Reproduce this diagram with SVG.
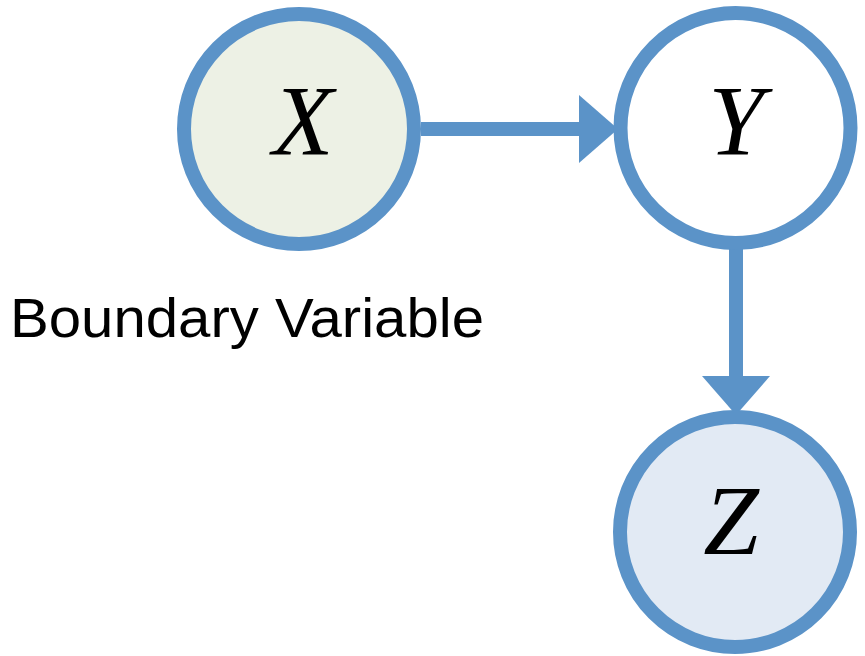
<svg xmlns="http://www.w3.org/2000/svg" width="865" height="656" viewBox="0 0 865 656">
<style>
.node{stroke:#5B93C8;stroke-width:14}
.var{font-family:"Liberation Serif","Times New Roman",serif;font-style:italic;font-size:100px;fill:#000;text-anchor:middle}
.lbl{font-family:"Liberation Sans",Arial,sans-serif;font-size:55px;fill:#000}
.edge{stroke:#5B93C8;stroke-width:14;fill:none}
.head{fill:#5B93C8}
</style>
<rect width="865" height="656" fill="#fff"/>
<g id="edges">
<line class="edge" x1="421" y1="129" x2="582" y2="129"/>
<polygon class="head" points="579,95 618,129 579,163"/>
<line class="edge" x1="736" y1="248" x2="736" y2="380"/>
<polygon class="head" points="702,376 770,376 736,415"/>
</g>
<g id="X">
<circle class="node" cx="299" cy="129" r="115" fill="#EDF1E5"/>
<text class="var" x="303" y="154">X</text>
</g>
<g id="Y">
<circle class="node" cx="735.5" cy="128" r="115" fill="#FFFFFF"/>
<text class="var" x="736" y="154">Y</text>
</g>
<g id="Z">
<circle class="node" cx="735" cy="532" r="115" fill="#E2EAF4"/>
<text class="var" x="731" y="554">Z</text>
</g>
<g id="label">
<text class="lbl" x="10" y="337" textLength="474" lengthAdjust="spacingAndGlyphs">Boundary Variable</text>
</g>
</svg>
